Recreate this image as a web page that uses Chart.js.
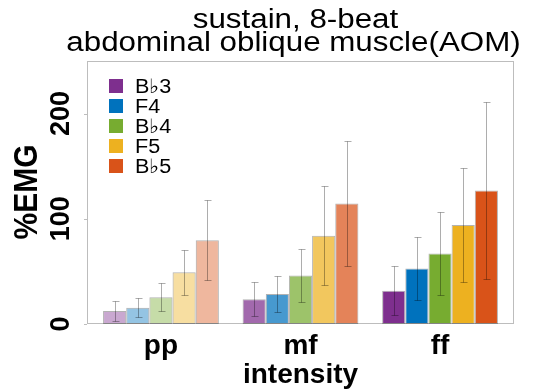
<!DOCTYPE html>
<html><head><meta charset="utf-8">
<script src="https://cdn.jsdelivr.net/npm/chart.js@4"></script>
<style>html,body{margin:0;padding:0;background:#fff;} #c{display:block;}</style>
</head><body>
<canvas id="c" width="533" height="392" style="width:533px;height:392px"></canvas>
<script>
const categories = ['pp', 'mf', 'ff'];
const notes = ['B\u266D3', 'F4', 'B\u266D4', 'F5', 'B\u266D5'];
const noteColors = ['#7E2F8E', '#0072BD', '#77AC30', '#EDB120', '#D95319'];
const intensityAlpha = [0.42, 0.72, 1];
// mean %EMG per note, across [pp, mf, ff]
const meanBb3 = [12.3, 23.6, 31.7];
const meanF4  = [15.5, 28.5, 52.7];
const meanBb4 = [25.4, 46.1, 67.1];
const meanF5  = [49.2, 83.8, 94.2];
const meanBb5 = [79.7, 114.6, 126.8];
// standard deviation per note, across [pp, mf, ff]
const sdBb3 = [9.5, 16.0, 23.5];
const sdF4  = [8.9, 17.1, 30.2];
const sdBb4 = [13.3, 25.5, 39.2];
const sdF5  = [21.3, 47.0, 54.2];
const sdBb5 = [38.1, 59.4, 84.2];
const yTicks = [0, 100, 200];
const yMax = 250;
const titleLines = ['sustain, 8-beat', 'abdominal oblique muscle(AOM)'];
const xTitle = 'intensity';
const yTitle = '%EMG';

const means = [meanBb3, meanF4, meanBb4, meanF5, meanBb5];
const sds = [sdBb3, sdF4, sdBb4, sdF5, sdBb5];

function rgba(hex, a) {
  const n = parseInt(hex.slice(1), 16);
  return `rgba(${(n >> 16) & 255},${(n >> 8) & 255},${n & 255},${a})`;
}

const datasets = notes.map((name, k) => ({
  label: name,
  data: categories.map((c, i) => ({ x: i + 1, y: means[k][i] })),
  sd: sds[k],
  backgroundColor: intensityAlpha.map(a => rgba(noteColors[k], a)),
  borderColor: 'rgba(0,0,0,0.3)',
  borderWidth: 1,
  borderSkipped: false,
  categoryPercentage: 0.83,
  barPercentage: 1.0
}));

const FONT = "'Liberation Sans', Arial, Helvetica, sans-serif";

function drawText(ctx, text, x, y, font, sx, align, rotated) {
  ctx.save();
  ctx.translate(x, y);
  if (rotated) { ctx.rotate(-Math.PI / 2); ctx.scale(1, sx); }
  else { ctx.scale(sx, 1); }
  ctx.font = font;
  ctx.fillStyle = '#000';
  ctx.textAlign = align;
  ctx.textBaseline = 'alphabetic';
  ctx.fillText(text, 0, 0);
  ctx.restore();
}

const framePlugin = {
  id: 'frame',
  beforeDatasetsDraw(chart) {
    const { ctx, chartArea: a, scales } = chart;
    ctx.save();
    ctx.strokeStyle = '#bdbdbd';
    ctx.lineWidth = 1;
    ctx.strokeRect(a.left + 0.5, a.top + 0.5, a.right - a.left - 1, a.bottom - a.top - 1);
    ctx.beginPath();
    yTicks.forEach(v => {
      const y = Math.round(scales.y.getPixelForValue(v)) + 0.5;
      ctx.moveTo(a.left - 3, y);
      ctx.lineTo(a.left, y);
    });
    ctx.stroke();
    ctx.restore();
  }
};

const errorPlugin = {
  id: 'errbars',
  afterDatasetsDraw(chart) {
    const { ctx, scales } = chart;
    ctx.save();
    ctx.strokeStyle = 'rgba(0,0,0,0.32)';
    ctx.lineWidth = 1;
    chart.data.datasets.forEach((ds, k) => {
      const meta = chart.getDatasetMeta(k);
      meta.data.forEach((el, i) => {
        const m = ds.data[i].y, s = ds.sd[i];
        const x = Math.round(el.x) + 0.5;
        const yt = Math.round(scales.y.getPixelForValue(m + s)) + 0.5;
        const yb = Math.round(scales.y.getPixelForValue(Math.max(m - s, 0))) + 0.5;
        ctx.beginPath();
        ctx.moveTo(x, yt); ctx.lineTo(x, yb);
        ctx.moveTo(x - 3, yt); ctx.lineTo(x + 4, yt);
        ctx.moveTo(x - 3, yb); ctx.lineTo(x + 4, yb);
        ctx.stroke();
      });
    });
    ctx.restore();
  }
};

const textPlugin = {
  id: 'texts',
  afterDraw(chart) {
    const { ctx, chartArea: a, scales } = chart;
    const cx = (a.left + a.right) / 2;
    // title
    drawText(ctx, titleLines[0], cx - 5, 28, `27px ${FONT}`, 1.16, 'center', false);
    drawText(ctx, titleLines[1], cx - 7, 51, `27px ${FONT}`, 1.16, 'center', false);
    // y tick labels (rotated)
    yTicks.forEach(v => {
      drawText(ctx, String(v), 69, scales.y.getPixelForValue(v), `bold 27px ${FONT}`, 1.0, 'center', true);
    });
    // y title
    drawText(ctx, yTitle, 37, 192, `bold 30px ${FONT}`, 1.08, 'center', true);
    // x tick labels
    categories.forEach((c, i) => {
      drawText(ctx, c, scales.x.getPixelForValue(i + 1), 354, `bold 28px ${FONT}`, 1.0, 'center', false);
    });
    // x title
    drawText(ctx, xTitle, cx, 383, `bold 28px ${FONT}`, 1.0, 'center', false);
    // legend
    notes.forEach((n, k) => {
      const top = a.top + 18 + k * 20;
      ctx.fillStyle = noteColors[k];
      ctx.fillRect(a.left + 22, top, 14, 14);
      drawText(ctx, n, a.left + 48, top + 14, `20px ${FONT}`, 1.08, 'left', false);
    });
  }
};

new Chart(document.getElementById('c'), {
  type: 'bar',
  data: { datasets },
  options: {
    responsive: false,
    animation: false,
    devicePixelRatio: 1,
    layout: { padding: { left: 87, top: 61, right: 19, bottom: 68 } },
    plugins: { legend: { display: false }, title: { display: false }, tooltip: { enabled: false } },
    scales: {
      x: {
        type: 'linear', min: 0.47, max: 3.53, offset: false,
        grid: { display: false, offset: false }, border: { display: false },
        ticks: { display: false },
        afterBuildTicks: s => { s.ticks = categories.map((c, i) => ({ value: i + 1 })); },
        afterFit: s => { s.height = 0; }
      },
      y: {
        min: 0, max: yMax,
        grid: { display: false }, border: { display: false },
        ticks: { display: false },
        afterBuildTicks: s => { s.ticks = yTicks.map(v => ({ value: v })); },
        afterFit: s => { s.width = 0; }
      }
    }
  },
  plugins: [framePlugin, errorPlugin, textPlugin]
});
</script>
</body></html>
